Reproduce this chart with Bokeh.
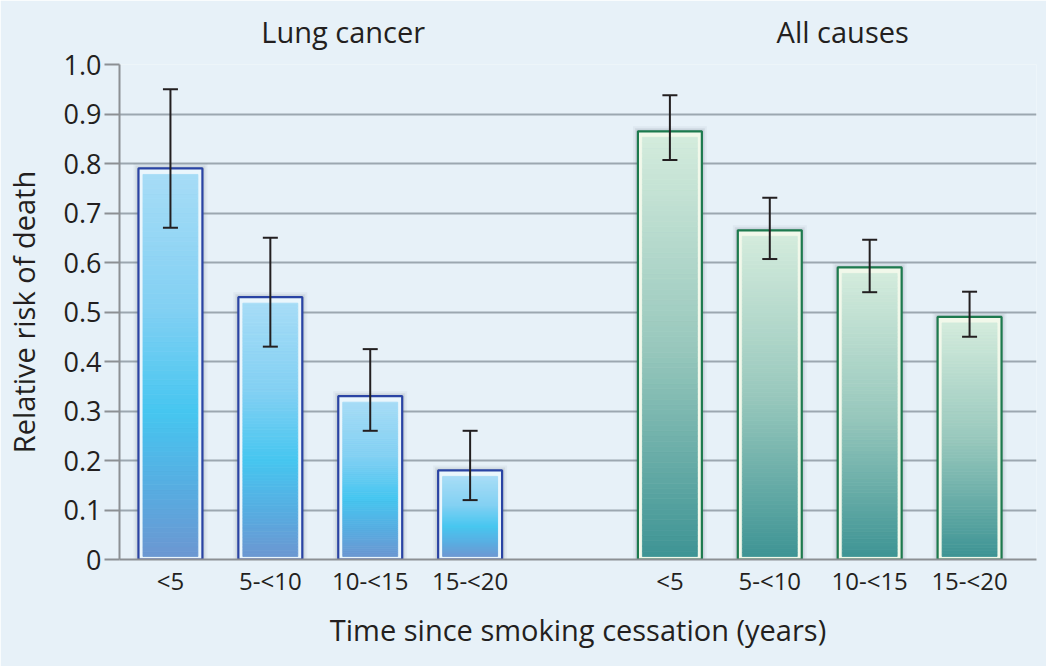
from bokeh.plotting import figure
from bokeh.models import (ColumnDataSource, Whisker, TeeHead, FixedTicker, Range1d, LinearAxis)
from bokeh.embed import file_html
from bokeh.resources import INLINE

# ---------------- data ----------------
groups = ["Lung cancer", "All causes"]
categories = ["<5", "5-<10", "10-<15", "15-<20"]
lung_rr = [0.79, 0.53, 0.33, 0.18]
lung_lo = [0.67, 0.43, 0.26, 0.12]
lung_hi = [0.95, 0.65, 0.425, 0.26]
all_rr = [0.865, 0.665, 0.59, 0.49]
all_lo = [0.807, 0.607, 0.54, 0.45]
all_hi = [0.938, 0.731, 0.646, 0.541]
y_ticks = [0, 0.1, 0.2, 0.3, 0.4, 0.5, 0.6, 0.7, 0.8, 0.9, 1.0]
y_tick_labels = ["0", "0.1", "0.2", "0.3", "0.4", "0.5", "0.6", "0.7", "0.8", "0.9", "1.0"]
x_title = "Time since smoking cessation (years)"
y_title = "Relative risk of death"

# ---------------- layout ----------------
BG = "#e7f1f8"
FONT = "Open Sans"
TXT = "#231f20"
W, H = 1046, 666
ML, MR, MT, MB = 118, 10, 64, 107
X0, X1 = -0.51, 8.67
frame_w = W - ML - MR
frame_h = H - MT - MB
px_x = (X1 - X0) / frame_w
px_y = 1.0 / frame_h

p = figure(width=W, height=H, output_backend="svg", toolbar_location=None,
           x_range=Range1d(X0, X1), y_range=Range1d(0, 1.0),
           min_border_left=ML, min_border_right=MR, min_border_top=MT, min_border_bottom=MB,
           background_fill_color=BG, border_fill_color=BG, outline_line_color=None)

# slot positions
slots1 = list(range(len(categories)))
slots2 = [len(categories) + 1 + i for i in range(len(categories))]

def lerp_hex(c1, c2, t):
    a = [int(c1[i:i + 2], 16) for i in (1, 3, 5)]
    b = [int(c2[i:i + 2], 16) for i in (1, 3, 5)]
    return "#%02x%02x%02x" % tuple(round(a[k] + (b[k] - a[k]) * t) for k in range(3))

def grad_color(stops, f):
    for (f0, c0), (f1, c1) in zip(stops, stops[1:]):
        if f0 <= f <= f1:
            return lerp_hex(c0, c1, (f - f0) / (f1 - f0) if f1 > f0 else 0)
    return stops[-1][1]

blue_stops = [(0.0, "#a6dcf6"), (0.35, "#82d0f3"), (0.62, "#46c6f0"), (0.85, "#5aa9df"), (1.0, "#6c97d1")]
green_stops = [(0.0, "#d3ebdc"), (0.5, "#98c8bd"), (1.0, "#3e9494")]

bar_w = 0.64

def draw_bars(xs, vals, stops, edge, inner):
    hw = bar_w / 2
    # soft shadow
    for grow, alpha in ((5, 0.06), (3, 0.10), (1.5, 0.14)):
        p.quad(left=[x - hw - grow * px_x for x in xs], right=[x + hw + grow * px_x for x in xs],
               bottom=[0] * len(xs), top=[v + grow * px_y for v in vals],
               fill_color="#5a6470", fill_alpha=alpha, line_color=None)
    # inner light border
    p.quad(left=[x - hw for x in xs], right=[x + hw for x in xs], bottom=[0] * len(xs), top=vals,
           fill_color=inner, line_color=None)
    # gradient body
    N = 80
    L, R, B, T, C = [], [], [], [], []
    for x, v in zip(xs, vals):
        top_in = v - 6 * px_y
        bot_in = 3 * px_y
        for i in range(N):
            t0 = bot_in + (top_in - bot_in) * i / N
            t1 = bot_in + (top_in - bot_in) * (i + 1) / N
            f = 1 - (i + 0.5) / N
            L.append(x - hw + 4.5 * px_x)
            R.append(x + hw - 4.5 * px_x)
            B.append(t0)
            T.append(t1)
            C.append(grad_color(stops, f))
    p.quad(left=L, right=R, bottom=B, top=T, fill_color=C, line_color=C, line_width=0.8)
    # outer border
    p.quad(left=[x - hw for x in xs], right=[x + hw for x in xs], bottom=[0] * len(xs), top=vals,
           fill_color=None, line_color=edge, line_width=2.2)

draw_bars(slots1, lung_rr, blue_stops, "#2a44a4", "#eaf6fc")
draw_bars(slots2, all_rr, green_stops, "#1d7a4e", "#f1f8ea")

# error bars
err = ColumnDataSource(dict(x=slots1 + slots2, lo=lung_lo + all_lo, hi=lung_hi + all_hi))
wk = Whisker(source=err, base="x", lower="lo", upper="hi", line_color=TXT, line_width=2,
             level="overlay",
             upper_head=TeeHead(size=15, line_color=TXT, line_width=2),
             lower_head=TeeHead(size=15, line_color=TXT, line_width=2))
p.add_layout(wk)

# bottom axis styling (the figure's own x axis)
bx = p.below[0]
bx.ticker = FixedTicker(ticks=slots1 + slots2)
bx.major_label_overrides = {s: c for s, c in zip(slots1 + slots2, categories + categories)}
bx.axis_line_color = "#8c9094"
bx.axis_line_width = 2
bx.major_tick_line_color = None
bx.major_tick_out = 0
bx.major_tick_in = 0
bx.minor_tick_line_color = None
bx.major_label_text_font = FONT
bx.major_label_text_font_size = "24px"
bx.major_label_text_color = TXT
bx.major_label_standoff = 4
bx.axis_label = x_title
bx.axis_label_text_font = FONT
bx.axis_label_text_font_size = "29px"
bx.axis_label_text_font_style = "normal"
bx.axis_label_text_color = TXT
bx.axis_label_standoff = 10

# group titles as an axis above
title_pos = [(sl[0] + sl[-1]) / 2 + 0.23 for sl in (slots1, slots2)]
top_ax = LinearAxis(ticker=FixedTicker(ticks=title_pos),
                    major_label_overrides={t: g for t, g in zip(title_pos, groups)},
                    axis_line_color=None, major_tick_line_color=None, minor_tick_line_color=None,
                    major_tick_out=0, major_tick_in=0, major_label_standoff=14,
                    major_label_text_font=FONT, major_label_text_font_size="29px",
                    major_label_text_color=TXT)
p.add_layout(top_ax, "above")

# grid
p.xgrid.grid_line_color = None
p.ygrid.grid_line_color = "#9ca7b0"
p.ygrid.grid_line_width = 2
p.ygrid.ticker = FixedTicker(ticks=y_ticks)

# y axis
ly = p.left[0]
ly.ticker = FixedTicker(ticks=y_ticks)
ly.major_label_overrides = {t: s for t, s in zip(y_ticks, y_tick_labels)}
ly.axis_line_color = "#8c9094"
ly.axis_line_width = 2
ly.major_tick_line_color = "#8c9094"
ly.major_tick_line_width = 2
ly.major_tick_in = 0
ly.major_tick_out = 15
ly.minor_tick_line_color = None
ly.major_label_text_font = FONT
ly.major_label_text_font_size = "27px"
ly.major_label_text_color = TXT
ly.major_label_standoff = 3
ly.axis_label = y_title
ly.axis_label_text_font = FONT
ly.axis_label_text_font_size = "29px"
ly.axis_label_text_font_style = "normal"
ly.axis_label_text_color = TXT
ly.axis_label_standoff = 18

open("out.html", "w").write(file_html(p, INLINE))
